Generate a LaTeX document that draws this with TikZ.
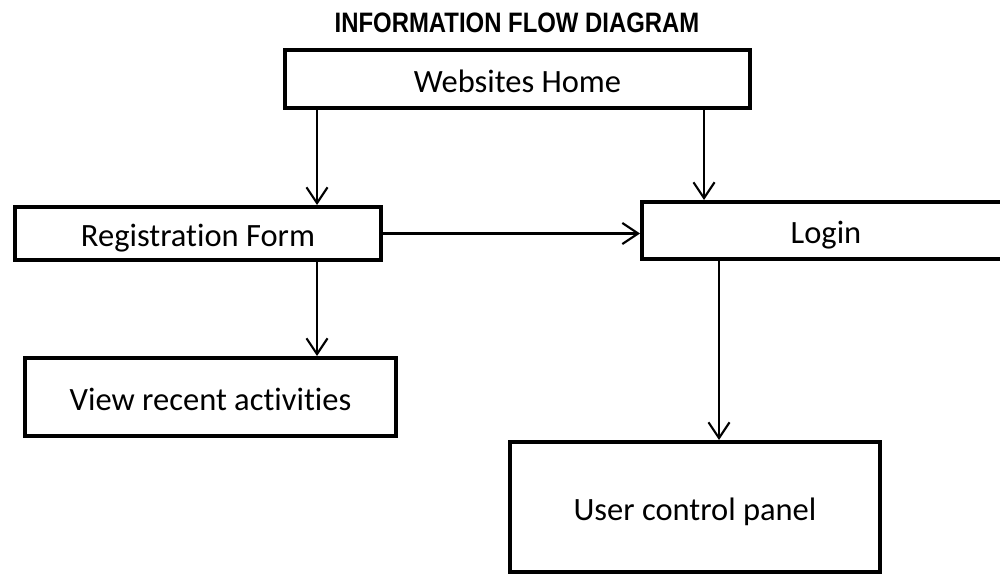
\documentclass[tikz,border=0pt]{standalone}
\usepackage{fontspec}
\setmainfont[Ligatures=NoCommon]{Carlito}
\newfontfamily\titlefont[FakeStretch=0.85]{Liberation Sans}
\usetikzlibrary{arrows.meta}

\tikzset{
	box/.style={draw=black, line width=2.3pt, rectangle, inner sep=0pt, align=center,
		text height=17.5pt, text depth=2.5pt, font=\fontsize{18.5}{22}\selectfont},
	flow/.style={draw=black, line width=1.2pt, -{Straight Barb[length=9pt,width=12pt,line width=1.2pt]}}
}

\begin{document}
\begin{tikzpicture}[x=0.02cm, y=-0.02cm]
			\useasboundingbox (0,0) rectangle (1000,576);
			\clip (0,0) rectangle (1000,576);
			\node (title) at (517,23) {\titlefont\bfseries\fontsize{16}{19}\selectfont INFORMATION FLOW DIAGRAM};
			
			% boxes
			\node [box, minimum width=9.3cm, minimum height=1.16cm] (home) at (517.5,79) {Websites Home};
			\node [box, minimum width=7.32cm, minimum height=1.06cm] (reg) at (198,233.5) {Registration Form};
			\node [box, minimum width=7.36cm, minimum height=1.14cm] (login) at (826,230.5) {Login};
			\node [box, minimum width=7.42cm, minimum height=1.56cm] (view) at (210.5,397) {View recent activities};
			\node [box, minimum width=7.4cm, minimum height=2.6cm] (panel) at (695,507) {User control panel};
			
			% where the arrows run down
			\coordinate (left) at (317,0);
			\coordinate (right) at (704,0);
			\coordinate (down) at (719,0);
			
			\draw [flow] (home.south -| left) -- (reg.north -| left);
			\draw [flow] (home.south -| right) -- (login.north -| right);
			\draw [flow] (reg.east) -- (reg.east -| login.west);
			\draw [flow] (reg.south -| left) -- (view.north -| left);
			\draw [flow] (login.south -| down) -- (panel.north -| down);
		\end{tikzpicture}
\end{document}
